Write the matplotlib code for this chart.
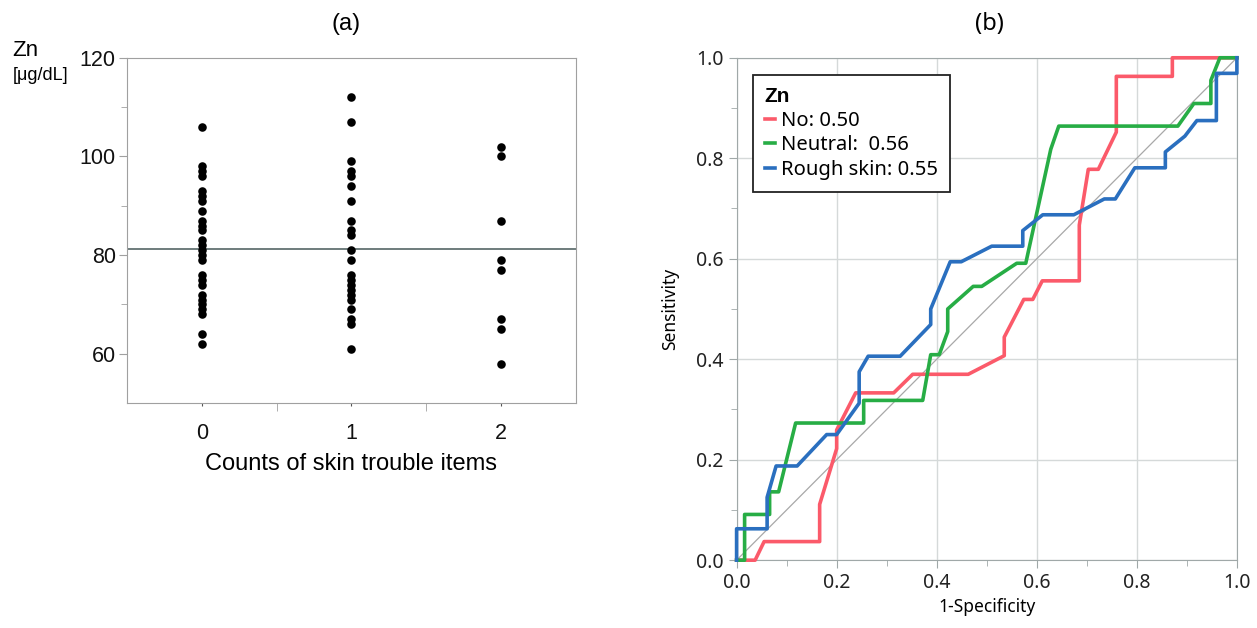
import matplotlib
matplotlib.use("Agg")
import matplotlib.pyplot as plt
from matplotlib.ticker import MultipleLocator, FixedLocator

# (a) serum Zn by count of skin trouble items
groups = [0, 1, 2]
zn_0 = [106, 98, 97, 96, 93, 92, 91, 89, 87, 86, 85, 83, 82, 81, 80, 79,
        76, 75, 74, 72, 71, 70, 69, 68, 64, 62]
zn_1 = [112, 107, 99, 97, 96, 94, 91, 87, 85, 84, 81, 79, 76, 75, 74, 73,
        72, 71, 69, 67, 66, 61]
zn_2 = [102, 100, 87, 79, 77, 67, 65, 58]
zn_mean = 81.2

# (b) ROC curves
no_fpr = [0, 0.037, 0.055, 0.166, 0.166, 0.2, 0.2, 0.238, 0.314, 0.352, 0.463,
          0.535, 0.535, 0.574, 0.592, 0.611, 0.685, 0.685, 0.703, 0.723, 0.759,
          0.759, 0.871, 0.871, 1.0]
no_tpr = [0, 0, 0.037, 0.037, 0.111, 0.222, 0.259, 0.333, 0.333, 0.370, 0.370,
          0.407, 0.444, 0.519, 0.519, 0.556, 0.556, 0.667, 0.778, 0.778, 0.852,
          0.963, 0.963, 1.0, 1.0]
neu_fpr = [0, 0.016, 0.016, 0.066, 0.066, 0.084, 0.118, 0.254, 0.254, 0.372,
           0.388, 0.405, 0.422, 0.422, 0.473, 0.490, 0.56, 0.578, 0.628, 0.644,
           0.882, 0.914, 0.948, 0.948, 0.966, 1.0]
neu_tpr = [0, 0, 0.091, 0.091, 0.136, 0.136, 0.273, 0.273, 0.318, 0.318, 0.409,
           0.409, 0.455, 0.5, 0.545, 0.545, 0.591, 0.591, 0.818, 0.864, 0.864,
           0.909, 0.909, 0.955, 1.0, 1.0]
rough_fpr = [0, 0, 0.061, 0.061, 0.079, 0.121, 0.18, 0.2, 0.245, 0.245, 0.263,
             0.327, 0.388, 0.388, 0.427, 0.449, 0.51, 0.572, 0.572, 0.612, 0.674,
             0.735, 0.757, 0.796, 0.857, 0.857, 0.896, 0.92, 0.959, 0.959, 1.0, 1.0]
rough_tpr = [0, 0.0625, 0.0625, 0.125, 0.1875, 0.1875, 0.25, 0.25, 0.3125, 0.375,
             0.406, 0.406, 0.469, 0.5, 0.594, 0.594, 0.625, 0.625, 0.656, 0.6875,
             0.6875, 0.719, 0.719, 0.781, 0.781, 0.8125, 0.844, 0.875, 0.875,
             0.969, 0.969, 1.0]
labels = ["No: 0.50", "Neutral:  0.56", "Rough skin: 0.55"]
colors = ["#fb5a6a", "#27ad45", "#2a6fbf"]

fig = plt.figure(figsize=(12.57, 6.28), dpi=100)

# ---- panel (a)
ax = fig.add_axes([0.101, 0.358, 0.357, 0.550])
lf = "Liberation Sans"
for g, vals in zip(groups, [zn_0, zn_1, zn_2]):
    ax.scatter([g] * len(vals), vals, s=38, color="black", zorder=3, linewidths=0)
ax.axhline(zn_mean, color="#6e7c7c", lw=1.4, zorder=2)
ax.set_xlim(-0.5, 2.5)
ax.set_ylim(50, 120)
ax.yaxis.set_major_locator(FixedLocator([60, 80, 100, 120]))
ax.yaxis.set_minor_locator(FixedLocator([70, 90, 110]))
ax.xaxis.set_major_locator(FixedLocator(groups))
ax.xaxis.set_minor_locator(FixedLocator([0.5, 1.5]))
ax.tick_params(axis="x", which="major", length=2, color="#555555", pad=12)
ax.tick_params(axis="x", which="minor", length=6, color="#a0a0a0")
ax.tick_params(axis="y", which="major", length=6, color="#a0a0a0", pad=2)
ax.tick_params(axis="y", which="minor", length=4, color="#a0a0a0")
for lab in ax.get_xticklabels() + ax.get_yticklabels():
    lab.set_family(lf)
    lab.set_fontsize(15.5)
    lab.set_color("#111111")
for sp in ax.spines.values():
    sp.set_color("#a0a0a0")
ax.set_xlabel("Counts of skin trouble items", family=lf, fontsize=17, labelpad=7)
fig.text(0.010, 0.903, "Zn", family=lf, fontsize=16, va="bottom")
fig.text(0.010, 0.893, "[μg/dL]", family=lf, fontsize=13, va="top")
fig.text(0.275, 0.962, "(a)", family=lf, fontsize=17, ha="center", va="center")

# ---- panel (b)
bx = fig.add_axes([0.586, 0.108, 0.398, 0.800])
nf = "Noto Sans"
bx.plot([0, 1], [0, 1], color="#a8a8a8", lw=0.9, zorder=2)
for fx, ty, lab, c in zip([no_fpr, neu_fpr, rough_fpr], [no_tpr, neu_tpr, rough_tpr],
                          labels, colors):
    bx.plot(fx, ty, color=c, lw=2.6, label=lab, zorder=3, clip_on=False)
bx.set_xlim(0, 1)
bx.set_ylim(0, 1)
bx.xaxis.set_major_locator(MultipleLocator(0.2))
bx.yaxis.set_major_locator(MultipleLocator(0.2))
bx.xaxis.set_minor_locator(MultipleLocator(0.1))
bx.yaxis.set_minor_locator(MultipleLocator(0.1))
bx.grid(True, which="major", color="#d5d9d9", lw=1.0, zorder=0)
bx.tick_params(which="major", length=6, color="#a0a8a8")
bx.tick_params(which="minor", length=4, color="#a0a8a8")
bx.set_xticklabels([f"{v:.1f}" for v in bx.get_xticks()])
bx.set_yticklabels([f"{v:.1f}" for v in bx.get_yticks()])
for lab in bx.get_xticklabels() + bx.get_yticklabels():
    lab.set_family(nf)
    lab.set_fontsize(14)
    lab.set_color("#222222")
for sp in bx.spines.values():
    sp.set_color("#a0a8a8")
bx.set_xlabel("1-Specificity", family=nf, fontsize=12.5, labelpad=3)
bx.set_ylabel("Sensitivity", family=nf, fontsize=12.5, labelpad=12)
leg = bx.legend(title="Zn", loc="upper left", bbox_to_anchor=(0.012, 0.985),
                prop={"family": nf, "size": 14.5}, handlelength=0.5,
                handletextpad=0.3, borderpad=0.6, labelspacing=0.22,
                fancybox=False, framealpha=1, edgecolor="#222222",
                title_fontproperties={"family": "Liberation Sans", "size": 15,
                                      "weight": "bold"})
leg._legend_box.align = "left"
leg.get_frame().set_linewidth(1.3)
fig.text(0.787, 0.962, "(b)", family=nf, fontsize=17, ha="center", va="center")

fig.savefig("out.png", dpi=100)
